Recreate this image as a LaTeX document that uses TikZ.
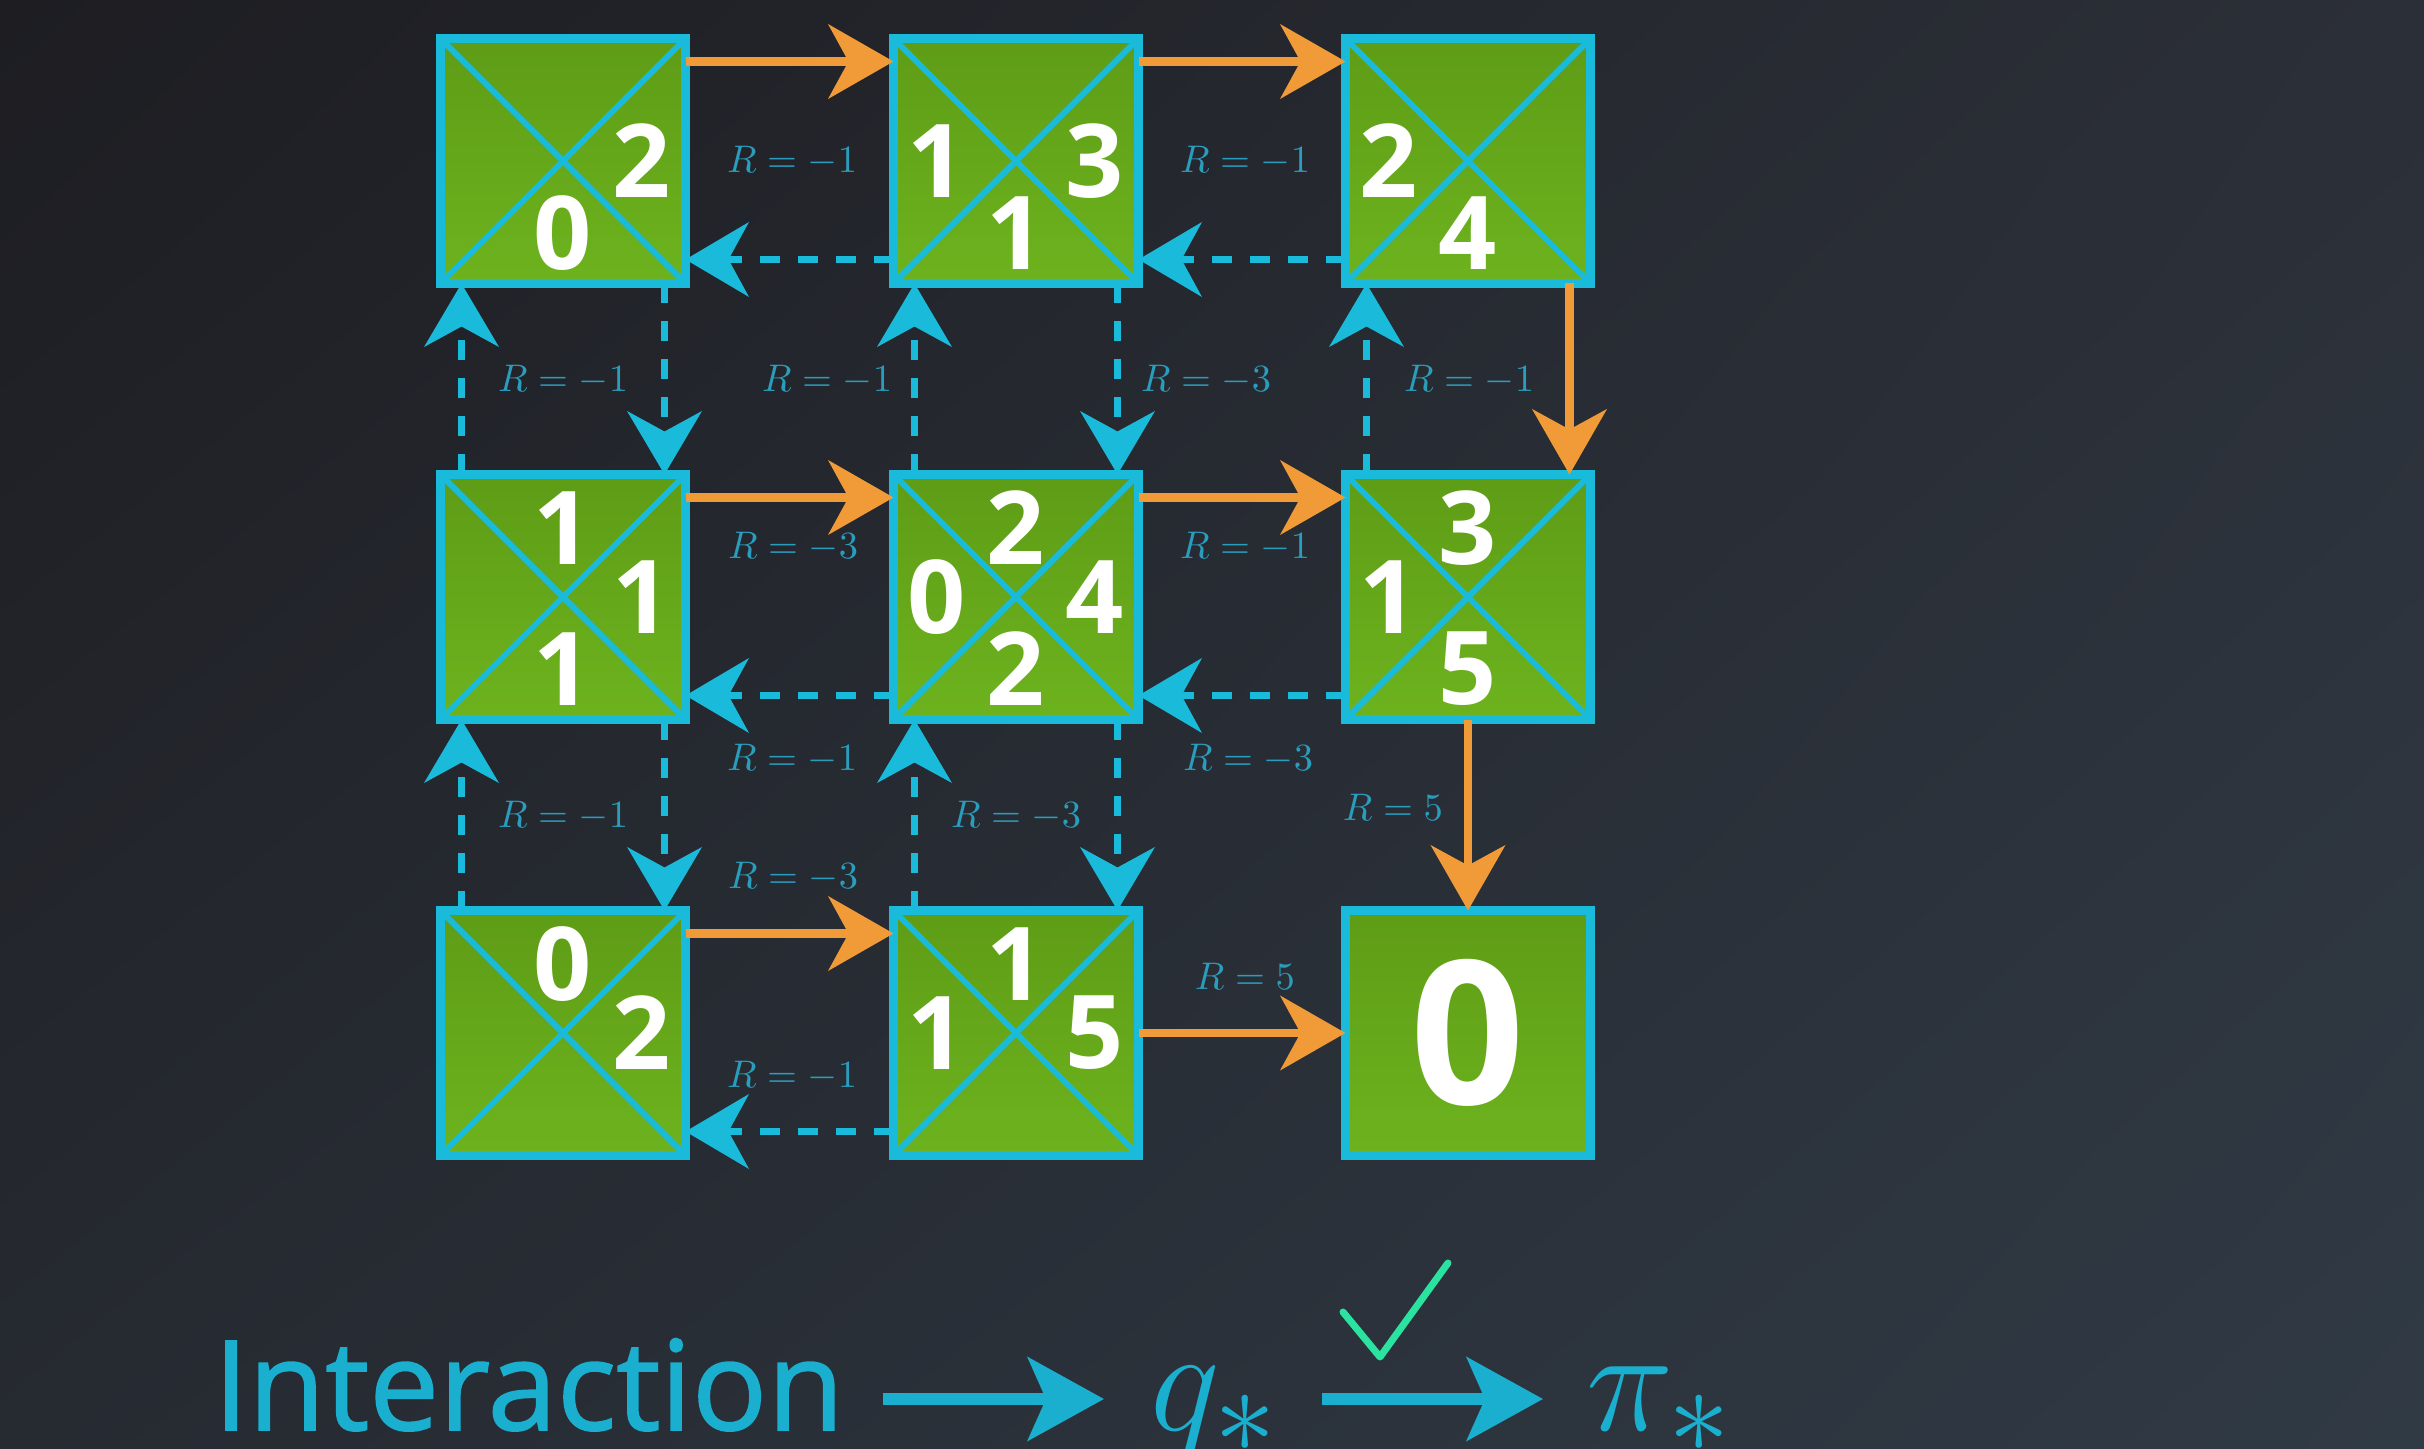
\documentclass[tikz,border=0pt]{standalone}
\usepackage{fontspec}
\setsansfont{Open Sans}
\newfontfamily\titlefont[FakeBold=1.2]{Open Sans}
\usetikzlibrary{arrows.meta, calc, shadings}
\definecolor{bgUL}{HTML}{1D1D22}
\definecolor{bgUR}{HTML}{2B2F37}
\definecolor{bgLL}{HTML}{262A31}
\definecolor{bgLR}{HTML}{303A45}
\definecolor{cgreenA}{HTML}{5E9C16}
\definecolor{cgreenB}{HTML}{6DB31E}
\definecolor{ccyan}{HTML}{1ABBDA}
\definecolor{corange}{HTML}{F09B38}
\definecolor{clabel}{HTML}{2A9CBC}
\definecolor{ctext}{HTML}{1BAFCF}
\definecolor{ccheck}{HTML}{2BE3A0}
\tikzset{
  cell/.style={draw=ccyan, line width=2.3pt, minimum size=2.45cm, inner sep=0pt, outer sep=0pt,
    top color=cgreenA, bottom color=cgreenB},
  diag/.style={draw=ccyan, line width=1.7pt},
  policy/.style={draw=corange, line width=2.3pt, -{Stealth[length=6.5mm, width=7.4mm, inset=2mm]}},
  explore/.style={draw=ccyan, line width=2.2pt, dash pattern=on 2mm off 1.8mm,
    -{Stealth[length=6.3mm, width=7.4mm, inset=2mm]}},
  rlabel/.style={text=clabel, font=\fontsize{11}{13}\selectfont},
  qval/.style={text=white, inner sep=0pt, font=\sffamily\bfseries\fontsize{29}{30}\selectfont},
  goal/.style={text=white, inner sep=0pt, font=\sffamily\bfseries\fontsize{57}{60}\selectfont},
  bigtext/.style={text=ctext, inner sep=0pt, font=\titlefont\fontsize{35.5}{40}\selectfont},
  bigmath/.style={text=ctext, inner sep=0pt, font=\Huge, scale=1.69, transform shape},
  bigarrow/.style={draw=ctext, line width=3.4pt, -{Stealth[length=7.6mm, width=8.3mm, inset=1.8mm]}},
}

\begin{document}
\begin{tikzpicture}
  \useasboundingbox (0,0) rectangle (24.24,14.48);
  \shade[upper left=bgUL, upper right=bgUR, lower left=bgLL, lower right=bgLR] (0,0) rectangle (24.24,14.48);
  % grid world, rows from the top
  \foreach \r/\y in {1/12.87, 2/8.51, 3/4.15}
    \foreach \c/\x in {1/5.63, 2/10.16, 3/14.68}
      \node[cell] (c\r\c) at (\x,\y) {};
  \foreach \n in {c11,c12,c13,c21,c22,c23,c31,c32} {
    \draw[diag] (\n.north west) -- (\n.south east);
    \draw[diag] (\n.south west) -- (\n.north east);
  }
  \node[goal] (g33) at (c33) {0};
  % action values in the triangles
  \foreach \n/\dx/\dy/\v [count=\i] in {c11/0.79/0/2, c11/0/-0.72/0,
      c12/-0.79/0/1, c12/0.79/0/3, c12/0/-0.72/1, c13/-0.79/0/2, c13/0/-0.72/4,
      c21/0/0.69/1, c21/0.79/0/1, c21/0/-0.72/1,
      c22/0/0.69/2, c22/-0.79/0/0, c22/0.79/0/4, c22/0/-0.72/2,
      c23/0/0.69/3, c23/-0.79/0/1, c23/0/-0.72/5,
      c31/0/0.69/0, c31/0.79/0/2, c32/0/0.69/1, c32/-0.79/0/1, c32/0.79/0/5}
    \node[qval] (q\i) at ($(\n)+(\dx,\dy)$) {\v};
  % greedy moves
  \foreach \a/\b in {c11/c12, c12/c13, c21/c22, c22/c23, c31/c32}
    \draw[policy] ([yshift=-0.23cm]\a.north east) -- ([yshift=-0.23cm]\b.north west);
  \draw[policy] ([xshift=-0.21cm]c13.south east) -- ([xshift=-0.21cm]c23.north east);
  \draw[policy] (c23.south) -- (c33.north);
  \draw[policy] (c32.east) -- (c33.west);
  % other moves
  \foreach \a/\b in {c12/c11, c13/c12, c22/c21, c23/c22, c32/c31}
    \draw[explore] ([yshift=0.24cm]\a.south west) -- ([yshift=0.24cm]\b.south east);
  \foreach \a/\b in {c21/c11, c31/c21, c22/c12, c32/c22, c23/c13}
    \draw[explore] ([xshift=0.21cm]\a.north west) -- ([xshift=0.21cm]\b.south west);
  \foreach \a/\b in {c11/c21, c21/c31, c12/c22, c22/c32}
    \draw[explore] ([xshift=-0.21cm]\a.south east) -- ([xshift=-0.21cm]\b.north east);
  % rewards
  \foreach \x/\y/\v [count=\i] in {7.92/12.87/-1, 12.45/12.87/-1,
      5.63/10.68/-1, 8.27/10.68/-1, 12.06/10.68/-3, 14.69/10.68/-1,
      7.93/9.01/-3, 12.45/9.01/-1, 7.92/6.89/-1, 12.48/6.89/-3,
      5.63/6.32/-1, 10.16/6.32/-3, 13.93/6.41/5,
      7.93/5.71/-3, 7.92/3.72/-1, 12.45/4.72/5}
    \node[rlabel] (r\i) at (\x,\y) {$R=\v$};
  % bottom line
  \node[bigtext, anchor=base west] (inter) at (2.13,0.18) {Interaction};
  \node[bigmath, anchor=base west] (qstar) at (11.49,0.18) {$q_*$};
  \node[bigmath, anchor=base west] (pistar) at (15.85,0.18) {$\pi_*$};
  \draw[bigarrow] ([xshift=0.38cm, yshift=0.31cm]inter.base east) -- ([xshift=-0.45cm, yshift=0.31cm]qstar.base west);
  \draw[bigarrow] ([xshift=0.42cm, yshift=0.31cm]qstar.base east) -- ([xshift=-0.42cm, yshift=0.31cm]pistar.base west);
  \draw[ccheck, line width=2pt, line cap=round, line join=round] (13.43,1.36) -- (13.80,0.91) -- (14.48,1.85);
\end{tikzpicture}
\end{document}
